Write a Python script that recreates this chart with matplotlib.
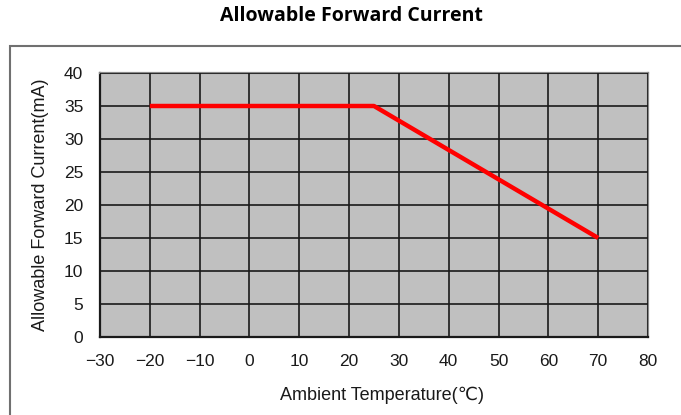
import matplotlib.pyplot as plt
from matplotlib.patches import Rectangle

temp = [-20, 25, 70]
current = [35, 35, 15]
xticks = [-30, -20, -10, 0, 10, 20, 30, 40, 50, 60, 70, 80]
yticks = [0, 5, 10, 15, 20, 25, 30, 35, 40]

plt.rcParams['font.family'] = ['Liberation Sans', 'DejaVu Sans']

fig = plt.figure(figsize=(6.81, 4.15), dpi=100)

# outer box around the chart
fig.patches.append(Rectangle((10 / 681, -0.1), 1.0, (415 - 46) / 415 + 0.1,
                             transform=fig.transFigure, fill=False,
                             edgecolor='#707070', linewidth=1.5))

fig.text(0.516, 0.962, 'Allowable Forward Current', ha='center', va='center',
         fontsize=14, fontweight='bold', family=['Open Sans', 'DejaVu Sans'])

ax = fig.add_axes([100 / 681, 78 / 415, 548 / 681, 264 / 415])
ax.set_facecolor('#c0c0c0')
ax.plot(temp, current, color='#ff0000', linewidth=3.2, solid_capstyle='butt',
        zorder=3)

ax.set_xlim(-30, 80)
ax.set_ylim(0, 40)
ax.set_xticks(xticks)
ax.set_yticks(yticks)
ax.grid(True, color='#1a1a1a', linewidth=1.2)
ax.set_axisbelow(False)
ax.tick_params(length=0, labelsize=12.5, colors='#1a1a1a')
ax.tick_params(axis='x', pad=12)
ax.tick_params(axis='y', pad=12)
for side in ['top', 'right']:
    ax.spines[side].set_color('#8a8a8a')
    ax.spines[side].set_linewidth(1.6)
for side in ['left', 'bottom']:
    ax.spines[side].set_color('#1a1a1a')
    ax.spines[side].set_linewidth(1.6)

ax.set_xlabel('Ambient Temperature(\u2103)', fontsize=13, color='#1a1a1a')
ax.xaxis.set_label_coords(282 / 548, -50 / 264)
ax.set_ylabel('Allowable Forward Current(mA)', fontsize=13, labelpad=11,
              color='#1a1a1a')

fig.savefig('out.png', dpi=100)
